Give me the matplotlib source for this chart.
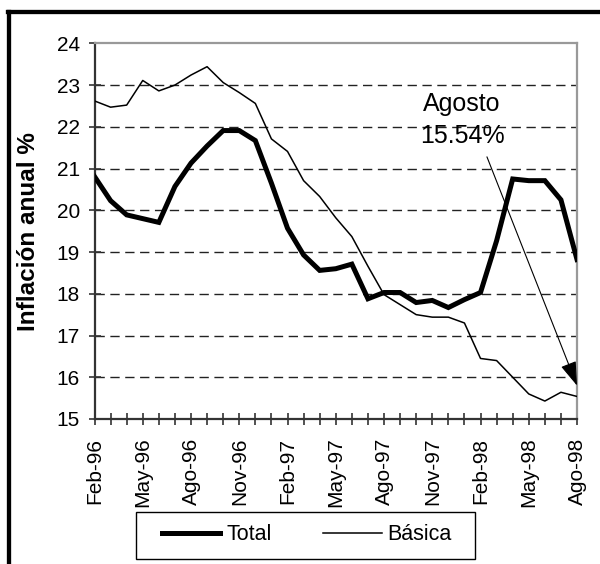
import matplotlib
matplotlib.use("Agg")
import matplotlib.pyplot as plt
from matplotlib.lines import Line2D
from matplotlib.patches import Rectangle

plt.rcParams['font.family'] = ['Liberation Sans', 'DejaVu Sans']

months = ['Feb-96', 'Mar-96', 'Abr-96', 'May-96', 'Jun-96', 'Jul-96', 'Ago-96',
          'Sep-96', 'Oct-96', 'Nov-96', 'Dic-96', 'Ene-97', 'Feb-97', 'Mar-97',
          'Abr-97', 'May-97', 'Jun-97', 'Jul-97', 'Ago-97', 'Sep-97', 'Oct-97',
          'Nov-97', 'Dic-97', 'Ene-98', 'Feb-98', 'Mar-98', 'Abr-98', 'May-98',
          'Jun-98', 'Jul-98', 'Ago-98']

total = [20.81, 20.23, 19.89, 19.80, 19.71, 20.57, 21.13, 21.54, 21.91, 21.91,
         21.67, 20.65, 19.57, 18.93, 18.56, 18.60, 18.71, 17.88, 18.03, 18.03,
         17.79, 17.84, 17.67, 17.86, 18.03, 19.27, 20.75, 20.71, 20.71, 20.25,
         18.82]

basica = [22.62, 22.47, 22.52, 23.11, 22.86, 23.00, 23.24, 23.44, 23.06, 22.82,
          22.56, 21.71, 21.41, 20.71, 20.33, 19.82, 19.37, 18.66, 17.98, 17.74,
          17.50, 17.44, 17.44, 17.30, 16.45, 16.40, 16.00, 15.60, 15.43, 15.64,
          15.54]

x = list(range(len(months)))

fig = plt.figure(figsize=(6, 5.64), dpi=100)
ax = fig.add_axes([0.1575, 0.2571, 0.9617 - 0.1575, 0.9232 - 0.2571])

# grid lines
for v in range(16, 24):
    ax.axhline(v, color='#222222', lw=1.0, dashes=(6.7, 4), zorder=1)

ax.plot(x, total, color='black', lw=3.6, label='Total', zorder=3, solid_joinstyle='miter')
ax.plot(x, basica, color='black', lw=1.1, label='Básica', zorder=3)

ax.set_xlim(0, 30)
ax.set_ylim(15, 24)
ax.set_yticks(range(15, 25))
ax.set_xticks(x)
ax.set_xticklabels([m if i % 3 == 0 else '' for i, m in enumerate(months)],
                   rotation=90, fontsize=15)
ax.tick_params(axis='x', direction='inout', length=9, width=1.2, color='#333333', pad=9)
ax.tick_params(axis='y', direction='inout', length=9, width=1.2, color='#333333',
               labelsize=15, pad=6)

for s in ['left', 'bottom']:
    ax.spines[s].set_color('#333333')
    ax.spines[s].set_linewidth(1.6)
for s in ['top', 'right']:
    ax.spines[s].set_color('#999999')
    ax.spines[s].set_linewidth(1.6)

ax.set_ylabel('Inflación anual %', fontsize=17.5, fontweight='bold')
ax.yaxis.set_label_coords(-0.113, 0.5)

# annotation
ax.text(22.85, 22.17, 'Agosto\n15.54%', fontsize=18, ha='center', va='center',
        linespacing=1.4, zorder=4)
ax.annotate('', xy=(30, 15.8), xytext=(24.4, 21.28),
            arrowprops=dict(arrowstyle='-|>,head_length=0.6,head_width=0.2',
                            mutation_scale=25, lw=0.8, color='black',
                            shrinkA=0, shrinkB=0), zorder=4)

# legend: entries without frame, box drawn separately
fig.legend(loc='center', bbox_to_anchor=(307 / 600, 1 - 535 / 564), ncol=2,
           fontsize=15.5, frameon=False, handlelength=2.7, columnspacing=2.4,
           handletextpad=0.28, borderpad=0)
fig.add_artist(Rectangle((136 / 600, 1 - 559 / 564), 339 / 600, 47 / 564,
                         fill=False, edgecolor='black', lw=1.0,
                         transform=fig.transFigure))

# outer frame (left and top edges visible)
fig.add_artist(Line2D([0.015, 0.015], [0, 0.9787], color='black', lw=3.1,
                      transform=fig.transFigure))
fig.add_artist(Line2D([0.0125, 1], [0.9787, 0.9787], color='black', lw=3.1,
                      transform=fig.transFigure))

fig.savefig('out.png', dpi=100)
